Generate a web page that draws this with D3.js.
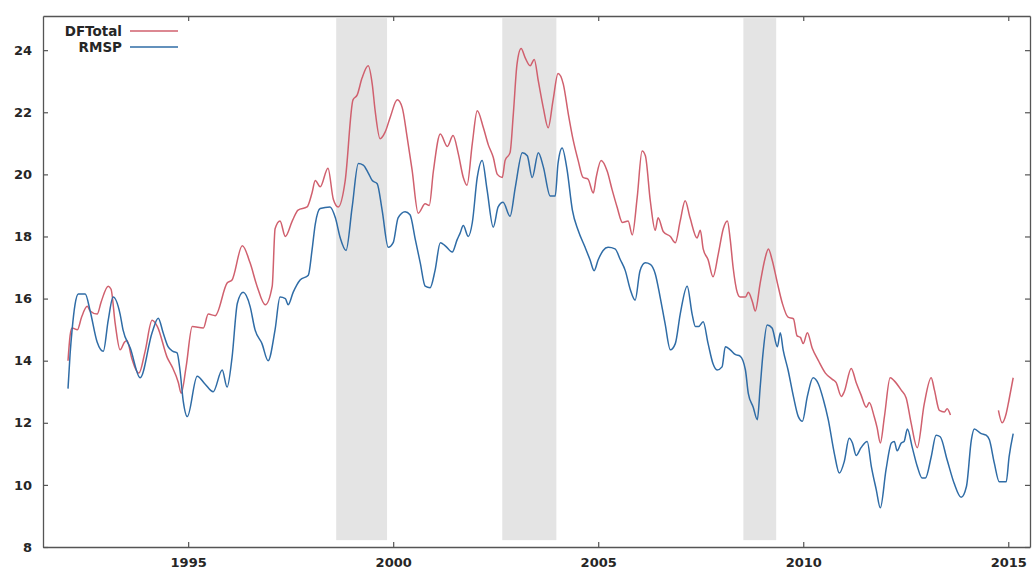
<!DOCTYPE html>
<html>
<head>
<meta charset="utf-8">
<script src="https://cdn.jsdelivr.net/npm/d3@7"></script>
<style>
  html, body { margin: 0; padding: 0; background: #fff; }
  svg { display: block; }
  text { font-family: 'DejaVu Sans', sans-serif; font-weight: bold; fill: #262626; }
</style>
</head>
<body>
<svg id="chart" width="1034" height="570"></svg>
<script>
const yTicks = [8, 10, 12, 14, 16, 18, 20, 22, 24];
const xTicks = [1995, 2000, 2005, 2010, 2015];
const seriesNames = ['DFTotal', 'RMSP'];

// shaded periods, [start, end] in years
const bands = [[1998.61, 1999.85], [2002.66, 2003.98], [2008.54, 2009.34]];

const dfTotal = [
  [1992.07, 14.0], [1992.12, 14.8], [1992.17, 15.05], [1992.30, 15.0], [1992.40, 15.4],
  [1992.54, 15.75], [1992.61, 15.6], [1992.78, 15.5], [1992.88, 15.9], [1993.05, 16.4],
  [1993.12, 16.3], [1993.22, 15.2], [1993.34, 14.35], [1993.45, 14.6], [1993.51, 14.65],
  [1993.62, 14.1], [1993.80, 13.6], [1993.95, 14.3], [1994.12, 15.3], [1994.25, 15.1],
  [1994.49, 14.1], [1994.61, 13.8], [1994.76, 13.3], [1994.83, 12.95], [1994.95, 13.8],
  [1995.10, 15.1], [1995.37, 15.05], [1995.49, 15.5], [1995.66, 15.45], [1995.95, 16.5],
  [1996.07, 16.6], [1996.32, 17.7], [1996.51, 17.15], [1996.68, 16.4], [1996.88, 15.8],
  [1997.05, 16.4], [1997.12, 18.25], [1997.24, 18.5], [1997.37, 18.0], [1997.54, 18.5],
  [1997.68, 18.85], [1997.90, 18.95], [1998.02, 19.4], [1998.10, 19.8], [1998.22, 19.6],
  [1998.41, 20.2], [1998.54, 19.2], [1998.66, 18.95], [1998.83, 19.8], [1999.02, 22.4],
  [1999.12, 22.55], [1999.24, 23.1], [1999.39, 23.5], [1999.49, 22.9], [1999.56, 22.05],
  [1999.68, 21.15], [1999.80, 21.35], [1999.93, 21.85], [2000.10, 22.4], [2000.22, 22.15],
  [2000.34, 21.2], [2000.46, 20.15], [2000.61, 18.75], [2000.78, 19.05], [2000.88, 19.0],
  [2000.98, 20.1], [2001.15, 21.3], [2001.32, 20.9], [2001.46, 21.25], [2001.59, 20.65],
  [2001.71, 19.9], [2001.80, 19.65], [2001.93, 21.0], [2002.05, 22.05], [2002.20, 21.5],
  [2002.32, 20.95], [2002.44, 20.55], [2002.54, 20.0], [2002.66, 19.9], [2002.73, 20.45],
  [2002.85, 20.7], [2002.93, 21.95], [2003.02, 23.55], [2003.12, 24.05], [2003.22, 23.75],
  [2003.34, 23.5], [2003.44, 23.7], [2003.54, 23.0], [2003.66, 22.15], [2003.78, 21.5],
  [2003.90, 22.4], [2004.02, 23.25], [2004.15, 22.9], [2004.27, 21.95], [2004.39, 21.1],
  [2004.51, 20.45], [2004.63, 19.9], [2004.75, 19.85], [2004.88, 19.4], [2004.95, 19.9],
  [2005.07, 20.45], [2005.22, 20.1], [2005.34, 19.5], [2005.46, 18.95], [2005.59, 18.45],
  [2005.73, 18.5], [2005.83, 18.05], [2005.95, 19.25], [2006.07, 20.75], [2006.15, 20.6],
  [2006.27, 19.15], [2006.39, 18.2], [2006.46, 18.6], [2006.59, 18.15], [2006.76, 18.0],
  [2006.88, 17.8], [2007.00, 18.5], [2007.12, 19.15], [2007.24, 18.6], [2007.41, 17.95],
  [2007.49, 18.2], [2007.56, 17.6], [2007.68, 17.25], [2007.80, 16.7], [2007.93, 17.45],
  [2008.05, 18.25], [2008.15, 18.5], [2008.22, 17.9], [2008.29, 17.0], [2008.39, 16.2],
  [2008.46, 16.05], [2008.59, 16.05], [2008.66, 16.2], [2008.76, 15.9], [2008.83, 15.6],
  [2008.95, 16.5], [2009.07, 17.3], [2009.15, 17.6], [2009.24, 17.25], [2009.37, 16.5],
  [2009.49, 15.85], [2009.63, 15.4], [2009.76, 15.35], [2009.85, 14.8], [2009.93, 14.75],
  [2010.00, 14.55], [2010.10, 14.9], [2010.22, 14.4], [2010.37, 14.0], [2010.54, 13.6],
  [2010.71, 13.4], [2010.80, 13.3], [2010.93, 12.85], [2011.00, 13.0], [2011.17, 13.75],
  [2011.29, 13.3], [2011.41, 12.9], [2011.54, 12.5], [2011.61, 12.65], [2011.73, 12.2],
  [2011.80, 11.85], [2011.88, 11.35], [2011.98, 12.2], [2012.12, 13.45], [2012.22, 13.35],
  [2012.39, 13.05], [2012.51, 12.8], [2012.63, 12.0], [2012.78, 11.2], [2012.95, 12.6],
  [2013.12, 13.45], [2013.20, 13.05], [2013.32, 12.4], [2013.44, 12.35], [2013.51, 12.45],
  [2013.59, 12.25], [2014.2, null],
  [2014.76, 12.4], [2014.85, 12.0], [2014.95, 12.3], [2015.02, 12.75], [2015.12, 13.45]
];

const rmsp = [
  [1992.07, 13.1], [1992.12, 14.2], [1992.17, 15.0], [1992.24, 15.8], [1992.32, 16.15],
  [1992.49, 16.15], [1992.61, 15.6], [1992.78, 14.6], [1992.93, 14.3], [1993.05, 15.3],
  [1993.17, 16.05], [1993.34, 15.5], [1993.41, 15.0], [1993.59, 14.4], [1993.83, 13.45],
  [1994.12, 14.9], [1994.27, 15.37], [1994.39, 14.9], [1994.51, 14.45], [1994.63, 14.3],
  [1994.73, 14.25], [1994.80, 13.7], [1994.88, 12.7], [1994.98, 12.2], [1995.22, 13.5],
  [1995.41, 13.25], [1995.61, 13.0], [1995.83, 13.7], [1995.95, 13.15], [1996.07, 14.1],
  [1996.20, 15.85], [1996.34, 16.2], [1996.51, 15.75], [1996.63, 15.0], [1996.80, 14.55],
  [1996.95, 14.0], [1997.12, 15.0], [1997.24, 16.05], [1997.37, 16.0], [1997.44, 15.8],
  [1997.56, 16.2], [1997.73, 16.6], [1997.93, 16.75], [1998.02, 17.55], [1998.10, 18.4],
  [1998.22, 18.9], [1998.46, 18.95], [1998.59, 18.6], [1998.71, 17.95], [1998.85, 17.55],
  [1999.00, 18.95], [1999.15, 20.35], [1999.27, 20.3], [1999.39, 20.05], [1999.49, 19.8],
  [1999.61, 19.7], [1999.73, 18.85], [1999.88, 17.65], [2000.00, 17.8], [2000.12, 18.6],
  [2000.29, 18.8], [2000.41, 18.7], [2000.54, 17.9], [2000.66, 17.15], [2000.78, 16.4],
  [2000.90, 16.35], [2001.02, 16.9], [2001.15, 17.8], [2001.27, 17.7], [2001.44, 17.5],
  [2001.56, 17.9], [2001.63, 18.1], [2001.71, 18.35], [2001.83, 18.0], [2001.93, 18.45],
  [2002.05, 19.9], [2002.17, 20.45], [2002.29, 19.5], [2002.44, 18.3], [2002.56, 18.95],
  [2002.68, 19.1], [2002.85, 18.65], [2002.98, 19.6], [2003.15, 20.7], [2003.27, 20.6],
  [2003.39, 19.9], [2003.54, 20.7], [2003.66, 20.25], [2003.83, 19.3], [2003.95, 19.3],
  [2004.02, 20.35], [2004.12, 20.85], [2004.24, 20.15], [2004.37, 18.85], [2004.51, 18.2],
  [2004.68, 17.65], [2004.80, 17.25], [2004.90, 16.9], [2005.00, 17.25], [2005.12, 17.55],
  [2005.24, 17.65], [2005.41, 17.6], [2005.54, 17.25], [2005.66, 16.9], [2005.78, 16.3],
  [2005.90, 15.95], [2006.02, 16.9], [2006.15, 17.15], [2006.27, 17.1], [2006.39, 16.8],
  [2006.51, 16.05], [2006.63, 15.2], [2006.76, 14.35], [2006.88, 14.55], [2007.00, 15.5],
  [2007.17, 16.4], [2007.29, 15.5], [2007.37, 15.1], [2007.45, 15.1], [2007.56, 15.25],
  [2007.68, 14.55], [2007.80, 13.9], [2007.90, 13.7], [2008.02, 13.8], [2008.10, 14.45],
  [2008.22, 14.35], [2008.34, 14.2], [2008.46, 14.15], [2008.59, 13.7], [2008.66, 12.95],
  [2008.78, 12.5], [2008.88, 12.1], [2008.95, 13.15], [2009.02, 14.25], [2009.12, 15.15],
  [2009.24, 15.05], [2009.37, 14.45], [2009.44, 14.9], [2009.51, 14.35], [2009.63, 13.7],
  [2009.76, 12.85], [2009.88, 12.2], [2009.98, 12.05], [2010.10, 12.85], [2010.24, 13.45],
  [2010.37, 13.25], [2010.49, 12.75], [2010.61, 12.1], [2010.76, 11.0], [2010.88, 10.38],
  [2011.00, 10.75], [2011.12, 11.5], [2011.20, 11.35], [2011.29, 10.95], [2011.41, 11.2],
  [2011.56, 11.4], [2011.66, 10.6], [2011.78, 9.85], [2011.88, 9.26], [2012.02, 10.5],
  [2012.15, 11.35], [2012.22, 11.4], [2012.29, 11.1], [2012.39, 11.35], [2012.46, 11.4],
  [2012.54, 11.8], [2012.66, 11.2], [2012.78, 10.6], [2012.90, 10.22], [2012.98, 10.22],
  [2013.12, 10.9], [2013.24, 11.6], [2013.34, 11.55], [2013.51, 10.8], [2013.68, 10.05],
  [2013.85, 9.6], [2013.98, 9.95], [2014.10, 11.45], [2014.17, 11.8], [2014.34, 11.65],
  [2014.46, 11.6], [2014.54, 11.45], [2014.66, 10.7], [2014.78, 10.1], [2014.95, 10.1],
  [2015.02, 10.9], [2015.12, 11.65]
];

const colors = { DFTotal: '#d0606e', RMSP: '#2f6ca6' };

const margin = { top: 16, right: 4, bottom: 23, left: 43 };
const width = 1034 - margin.left - margin.right;
const height = 570 - margin.top - margin.bottom;

const svg = d3.select('#chart');
const g = svg.append('g').attr('transform', `translate(${margin.left},${margin.top})`);

const x = d3.scaleLinear().domain([1991.46, 2015.53]).range([0, width]);
const y = d3.scaleLinear().domain([8, 25.1]).range([height, 0]);

// shaded bands
g.selectAll('rect.band')
  .data(bands)
  .enter()
  .append('rect')
  .attr('class', 'band')
  .attr('x', (d) => x(d[0]))
  .attr('width', (d) => x(d[1]) - x(d[0]))
  .attr('y', y(25.03))
  .attr('height', y(8.22) - y(25.03))
  .attr('fill', '#e4e4e4');

// axes, gnuplot style: ticks inside, mirrored on top/right
const tickLen = 5;
g.append('g')
  .attr('transform', `translate(0,${height})`)
  .call(d3.axisBottom(x).tickValues(xTicks).tickFormat(d3.format('d')).tickSizeInner(-tickLen).tickSizeOuter(0).tickPadding(11));
g.append('g')
  .call(d3.axisLeft(y).tickValues(yTicks).tickSizeInner(-tickLen).tickSizeOuter(0).tickPadding(11));
g.append('g')
  .call(d3.axisTop(x).tickValues(xTicks).tickFormat('').tickSizeInner(-tickLen).tickSizeOuter(0));
g.append('g')
  .attr('transform', `translate(${width},0)`)
  .call(d3.axisRight(y).tickValues(yTicks).tickFormat('').tickSizeInner(-tickLen).tickSizeOuter(0));

g.selectAll('.domain').attr('stroke', '#555').attr('stroke-width', 1.3);
g.selectAll('.tick line').attr('stroke', '#555').attr('stroke-width', 1.2);
g.selectAll('.tick text')
  .style('font-family', "'DejaVu Sans', sans-serif")
  .style('font-weight', 'bold')
  .style('font-size', '13px')
  .attr('fill', '#262626');

// lines
const line = d3.line()
  .defined((d) => d[1] != null)
  .curve(d3.curveMonotoneX)
  .x((d) => x(d[0]))
  .y((d) => y(d[1]));

const seriesData = { DFTotal: dfTotal, RMSP: rmsp };

seriesNames.forEach((name) => {
  g.append('path')
    .datum(seriesData[name])
    .attr('fill', 'none')
    .attr('stroke', colors[name])
    .attr('stroke-width', 1.5)
    .attr('stroke-linejoin', 'round')
    .attr('d', line);
});

// legend
const legend = g.append('g').attr('transform', 'translate(79,15)');
seriesNames.forEach((name, i) => {
  const row = legend.append('g').attr('transform', `translate(0,${i * 16})`);
  row.append('text')
    .attr('x', 0)
    .attr('y', 5)
    .attr('text-anchor', 'end')
    .style('font-size', '13.5px')
    .text(name);
  row.append('line')
    .attr('x1', 8)
    .attr('x2', 56)
    .attr('y1', 0)
    .attr('y2', 0)
    .attr('stroke', colors[name])
    .attr('stroke-width', 1.5);
});
</script>
</body>
</html>
